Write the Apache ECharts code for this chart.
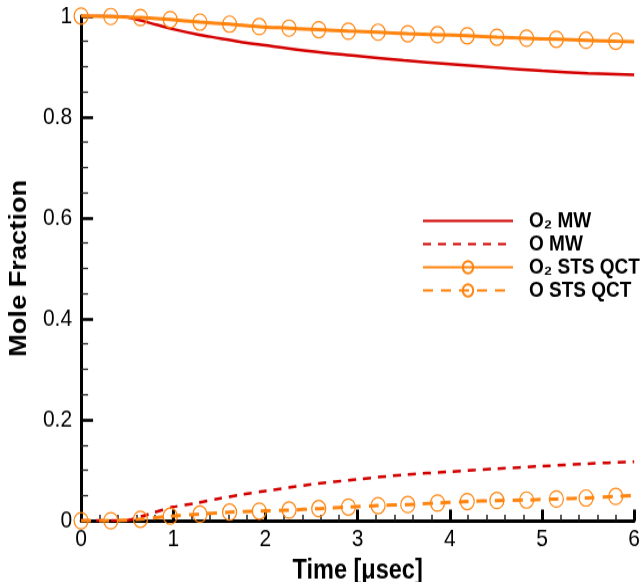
<!DOCTYPE html>
<html>
<head>
<meta charset="utf-8">
<script src="https://cdn.jsdelivr.net/npm/echarts@6/dist/echarts.min.js"></script>
<style>
html,body{margin:0;padding:0;background:#fff;overflow:hidden}
#wrap{width:643px;height:582px;overflow:hidden}
#c{width:643px;height:510px;transform:scaleY(1.1594);transform-origin:0 0}
</style>
</head>
<body>
<div id="wrap"><div id="c"></div></div>
<script>
// MW model curves
var tMW = [0, 0.25, 0.5, 0.75, 1.0, 1.25, 1.5, 1.75, 2.0, 2.5, 3.0, 3.5, 4.0, 4.5, 5.0, 5.5, 6.0];
var o2MW = [1.0, 1.0, 0.998, 0.986, 0.974, 0.964, 0.956, 0.948, 0.942, 0.930, 0.921, 0.912, 0.905, 0.898, 0.8915, 0.8865, 0.8836];
var oMW  = [0.0, 0.0, 0.001, 0.014, 0.027, 0.035, 0.044, 0.052, 0.059, 0.072, 0.082, 0.091, 0.097, 0.103, 0.108, 0.113, 0.117];
// STS QCT curves (marker points + end point)
var tQCT = [0, 0.322, 0.644, 0.967, 1.289, 1.611, 1.933, 2.256, 2.578, 2.9, 3.222, 3.544, 3.867, 4.189, 4.511, 4.833, 5.156, 5.478, 5.8, 6.0];
var o2QCT = [1.0, 0.999, 0.997, 0.993, 0.988, 0.984, 0.979, 0.976, 0.973, 0.970, 0.968, 0.965, 0.963, 0.961, 0.958, 0.956, 0.954, 0.952, 0.950, 0.949];
var oQCT  = [0.0, 0.0, 0.003, 0.009, 0.013, 0.017, 0.019, 0.021, 0.024, 0.027, 0.030, 0.032, 0.035, 0.038, 0.040, 0.041, 0.043, 0.045, 0.048, 0.050];
var seriesNames = ['O\u2082 MW', 'O MW', 'O\u2082 STS QCT', 'O STS QCT'];
var xTicks = [0, 1, 2, 3, 4, 5, 6];
var yTicks = [0, 0.2, 0.4, 0.6, 0.8, 1];

var RED = '#d40000', ORANGE = '#ff8510';
function pairs(t, v) { return t.map(function (x, i) { return [x, v[i]]; }); }
function qctData(t, v) {
  return t.map(function (x, i) {
    var d = { value: [x, v[i]] };
    if (i === t.length - 1) d.symbol = 'none';
    return d;
  });
}
var font = 'Liberation Sans, Arial, DejaVu Sans, sans-serif';
var chart = echarts.init(document.getElementById('c'));
chart.setOption({
  backgroundColor: '#fff',
  animation: false,
  grid: { left: 75, right: 7, top: 13.8, bottom: 53.7 },
  legend: {
    orient: 'vertical',
    left: 422, top: 181, padding: 0,
    itemWidth: 90, itemHeight: 13, itemGap: 1,
    data: seriesNames,
    textStyle: {
      color: '#000', fontFamily: font, fontSize: 19, fontWeight: 'bold', lineHeight: 19,
      padding: [0, 0, 0, 11]
    }
  },
  xAxis: {
    type: 'value', min: 0, max: 6, interval: 1,
    name: 'Time [\u03bcsec]', nameLocation: 'middle', nameGap: 19.3,
    nameTextStyle: { fontSize: 23.5, fontWeight: 'bold', color: '#000', fontFamily: font },
    axisLine: { show: true, onZero: false, lineStyle: { color: '#000', width: 2.8 } },
    axisTick: { show: true, inside: true, length: 9.5, lineStyle: { color: '#000', width: 3 } },
    minorTick: { show: true, splitNumber: 5, length: 5, lineStyle: { color: '#222', width: 1.5 } },
    axisLabel: { fontSize: 21, color: '#000', fontFamily: font, margin: 6 },
    splitLine: { show: false }
  },
  yAxis: {
    type: 'value', min: 0, max: 1, interval: 0.2,
    name: 'Mole Fraction', nameLocation: 'middle', nameGap: 41, nameRotate: 90,
    nameTextStyle: { fontSize: 23.5, fontWeight: 'bold', color: '#000', fontFamily: font },
    axisLine: { show: true, onZero: false, lineStyle: { color: '#000', width: 3 } },
    axisTick: { show: true, inside: true, length: 12, lineStyle: { color: '#000', width: 2.6 } },
    minorTick: { show: true, splitNumber: 4, length: 7, lineStyle: { color: '#222', width: 1.3 } },
    axisLabel: { fontSize: 21, color: '#000', fontFamily: font, margin: 9,
      formatter: function (v) { return (v === 0 || v === 1) ? String(v) : v.toFixed(1); } },
    splitLine: { show: false }
  },
  series: [
    { name: seriesNames[0], type: 'line', data: pairs(tMW, o2MW), smooth: 0.3, symbol: 'none', showSymbol: false,
      lineStyle: { color: RED, width: 2.5 }, itemStyle: { color: 'rgba(0,0,0,0)' }, z: 2 },
    { name: seriesNames[1], type: 'line', data: pairs(tMW, oMW), smooth: 0.3, symbol: 'none', showSymbol: false,
      lineStyle: { color: RED, width: 2.5, type: [8, 7] }, itemStyle: { color: 'rgba(0,0,0,0)' }, z: 2 },
    { name: seriesNames[2], type: 'line', data: qctData(tQCT, o2QCT), smooth: 0.3, clip: false,
      symbol: 'circle', symbolSize: 14, showAllSymbol: true,
      lineStyle: { color: ORANGE, width: 3 }, itemStyle: { color: 'rgba(255,255,255,0)', borderColor: ORANGE, borderWidth: 1.2 }, z: 3 },
    { name: seriesNames[3], type: 'line', data: qctData(tQCT, oQCT), smooth: 0.3, clip: false,
      symbol: 'circle', symbolSize: 14, showAllSymbol: true,
      lineStyle: { color: ORANGE, width: 3, type: [10, 8] }, itemStyle: { color: 'rgba(255,255,255,0)', borderColor: ORANGE, borderWidth: 1.2 }, z: 3 }
  ]
});
</script>
</body>
</html>
